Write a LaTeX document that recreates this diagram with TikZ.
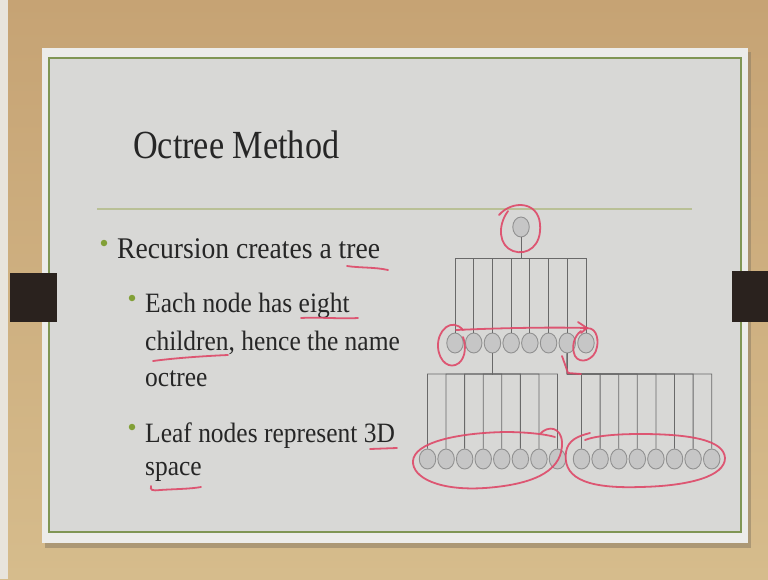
\documentclass[tikz,border=0pt]{standalone}
\usepackage{fontspec}
\setmainfont{Liberation Serif}
\usetikzlibrary{shapes.geometric}
\definecolor{tanA}{RGB}{198,163,116}
\definecolor{tanB}{RGB}{214,188,140}
\definecolor{stripc}{RGB}{232,228,220}
\definecolor{shadowc}{RGB}{140,125,100}
\definecolor{slideW}{RGB}{236,236,234}
\definecolor{slideIn}{RGB}{216,216,214}
\definecolor{frameG}{RGB}{128,150,85}
\definecolor{ruleG}{RGB}{185,192,150}
\definecolor{tabC}{RGB}{42,34,30}
\definecolor{textc}{RGB}{38,38,38}
\definecolor{bulletc}{RGB}{130,160,55}
\definecolor{nodeF}{RGB}{198,198,198}
\definecolor{nodeD}{RGB}{145,145,145}
\definecolor{linec}{RGB}{105,105,105}
\definecolor{penc}{RGB}{222,72,104}
\tikzset{
  txt/.style={anchor=base west, inner sep=0pt, text=textc},
  tn/.style={ellipse, draw=nodeD, fill=nodeF, line width=0.9pt, minimum width=16.5pt, minimum height=20pt, inner sep=0pt},
  ln/.style={draw=linec, line width=0.8pt},
  pen/.style={draw=penc, line width=1.8pt, line cap=round, line join=round, opacity=0.9},
  dotb/.style={circle, fill=bulletc, minimum size=6.5pt, inner sep=0pt}
}
\begin{document}
\begin{tikzpicture}[x=1pt,y=-1pt]
\useasboundingbox (0,0) rectangle (768,579);
% background
\shade[top color=tanA, bottom color=tanB] (0,0) rectangle (768,579);
\fill[stripc] (0,0) rectangle (8,579);
\fill[shadowc, opacity=0.55] (45,52) rectangle (751,548);
\fill[slideW] (42,48) rectangle (748,543);
\fill[slideIn] (49,58) rectangle (741,532);
\draw[frameG, line width=1.6pt] (49,58) rectangle (741,532);
\fill[tabC] (10,273) rectangle (57,322);
\fill[tabC] (732,271) rectangle (768,322);
% title and rule
\node[txt] (title) at (133,158) {\fontsize{38}{40}\selectfont\scalebox{0.9}[1.05]{Octree Method}};
\draw[ruleG, line width=2.5pt] (97,209) -- (692,209);
% bullets
\node[dotb] (d1) at (104,243) {};
\node[txt] (t1) at (117,258) {\fontsize{30}{32}\selectfont\scalebox{0.92}[1]{Recursion creates a tree}};
\node[dotb] (d2) at (132,298) {};
\node[txt] (t2) at (145,312) {\fontsize{28}{30}\selectfont\scalebox{0.91}[1]{Each node has eight}};
\node[txt] (t3) at (145,350) {\fontsize{28}{30}\selectfont\scalebox{0.91}[1]{children, hence the name}};
\node[txt] (t4) at (145,386) {\fontsize{28}{30}\selectfont\scalebox{0.91}[1]{octree}};
\node[dotb] (d3) at (132,427) {};
\node[txt] (t5) at (145,442) {\fontsize{28}{30}\selectfont\scalebox{0.91}[1]{Leaf nodes represent 3D}};
\node[txt] (t6) at (145,475) {\fontsize{28}{30}\selectfont\scalebox{0.91}[1]{space}};
% tree
\node[tn] (r) at (521,227) {};
\foreach \i in {1,...,8} \node[tn] (a\i) at ({455+(\i-1)*18.71},343) {};
\foreach \i in {1,...,8} \node[tn] (l\i) at ({427.5+(\i-1)*18.57},459) {};
\foreach \i in {1,...,8} \node[tn] (m\i) at ({581.5+(\i-1)*18.6},459) {};
\coordinate (bar1) at (521,258);
\coordinate (bar2) at (492.4,374);
\coordinate (bar3) at (567.3,374);
\foreach \i in {1,...,8} {
  \draw[ln] (r.south) -- (bar1) -| (a\i.north);
  \draw[ln] (a3.south) -- (bar2) -| (l\i.north);
  \draw[ln] (a7.south) -- (bar3) -| (m\i.north);
}
% red pen annotations
\draw[pen] (153,361) .. controls (175,358) and (205,356) .. (228,355);
\draw[pen] (347,266) .. controls (360,268) and (375,267) .. (388,270);
\draw[pen] (301,318) .. controls (320,317) and (340,319) .. (358,318);
\draw[pen] (370,449) -- (397,448);
\draw[pen] (151,486) .. controls (150,490) and (152,491) .. (160,490) .. controls (175,489) and (190,489) .. (201,487);
% root loop
\draw[pen] (499,215) .. controls (512,200) and (538,201) .. (540,224) .. controls (542,246) and (527,256) .. (513,251) .. controls (499,246) and (497,226) .. (508,211);
% level-1 loops and arrow
\draw[pen] (463,330) .. controls (452,317) and (437,330) .. (438,347) .. controls (439,362) and (450,370) .. (459,363) .. controls (466,357) and (466,345) .. (463,337);
\draw[pen] (456,330) .. controls (500,328) and (550,327) .. (587,328);
\draw[pen] (578,322) -- (587,328) -- (581,333);
\draw[pen] (584,329) .. controls (595,325) and (599,337) .. (597,347) .. controls (595,360) and (580,365) .. (575,356) .. controls (571,347) and (574,336) .. (581,331);
\draw[pen] (562,356) -- (568,373) -- (581,374);
% leaf loops
\draw[pen] (540,434) .. controls (548,425) and (561,427) .. (562,442) .. controls (563,468) and (540,484) .. (485,488) .. controls (440,491) and (412,478) .. (413,461) .. controls (414,443) and (455,433) .. (505,432) .. controls (525,432) and (545,434) .. (555,437);
\draw[pen] (590,433) .. controls (578,436) and (568,440) .. (566,452) .. controls (563,475) and (580,489) .. (640,487) .. controls (690,486) and (725,476) .. (725,458) .. controls (724,440) and (690,434) .. (640,434) .. controls (615,434) and (595,436) .. (585,440);
\end{tikzpicture}
\end{document}
